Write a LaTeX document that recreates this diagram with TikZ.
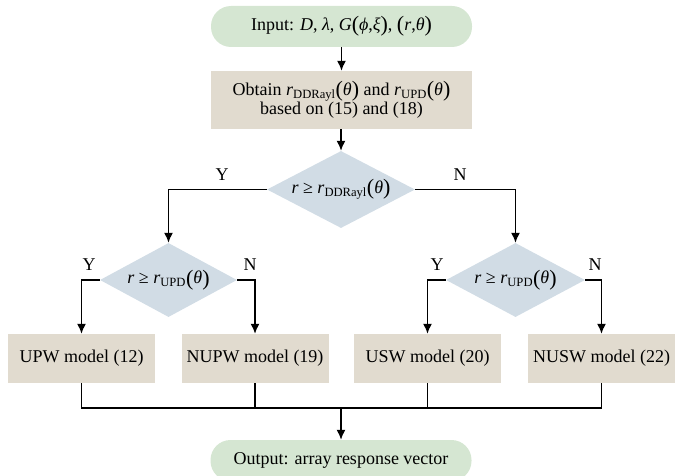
\documentclass[tikz,border=0pt]{standalone}
\usepackage{fontspec}
\setmainfont{Liberation Serif}
\usetikzlibrary{shapes.geometric,arrows.meta}
\definecolor{ingreen}{RGB}{213,230,210}
\definecolor{boxbeige}{RGB}{225,219,207}
\definecolor{diablue}{RGB}{209,220,229}
\newcommand{\vi}[1]{\textit{#1}}
\newcommand{\bpar}[1]{\raisebox{-1.5pt}{\fontsize{22}{22}\selectfont(}#1\raisebox{-1.5pt}{\fontsize{22}{22}\selectfont)}}
\begin{document}
\begin{tikzpicture}[x=1pt,y=-1pt,
  every node/.style={font=\fontsize{18}{22}\selectfont},
  term/.style={rectangle,rounded corners=20pt,fill=ingreen,minimum width=261pt,minimum height=41pt,inner sep=0pt},
  procbox/.style={rectangle,fill=boxbeige,inner sep=0pt,align=center},
  decide/.style={diamond,fill=diablue,inner sep=0pt,aspect=1.9},
  conn/.style={line width=1.5pt,-{Latex[length=10pt,width=9pt]}},
  plainline/.style={line width=1.2pt},
  yn/.style={inner sep=0pt}]
\useasboundingbox (0,0) rectangle (681,476);

\node[term] (in) at (341.5,26.5) {Input: \vi{D}, \vi{λ}, \vi{G}\bpar{\vi{ϕ},\vi{ξ}}, \bpar{\vi{r},\vi{θ}}};
\node[procbox,minimum width=261pt,minimum height=58pt] (ob) at (341.5,100)
  {Obtain \vi{r}\textsubscript{DDRayl}\bpar{\vi{θ}} and \vi{r}\textsubscript{UPD}\bpar{\vi{θ}}\\[-3pt] based on (15) and (18)};
\node[decide,minimum width=148pt,minimum height=77pt] (d1) at (341,189.5) {\vi{r} ≥ \vi{r}\textsubscript{DDRayl}\bpar{\vi{θ}}};
\node[decide,minimum width=137pt,minimum height=74pt] (d2) at (168.5,280) {\vi{r} ≥ \vi{r}\textsubscript{UPD}\bpar{\vi{θ}}};
\node[decide,minimum width=139pt,minimum height=74pt] (d3) at (515.5,280) {\vi{r} ≥ \vi{r}\textsubscript{UPD}\bpar{\vi{θ}}};

\node[procbox,minimum width=147pt,minimum height=49pt] (b1) at (81.5,358.5) {UPW model (12)};
\node[procbox,minimum width=147pt,minimum height=49pt] (b2) at (255,358.5) {NUPW model (19)};
\node[procbox,minimum width=147pt,minimum height=49pt] (b3) at (427.5,358.5) {USW model (20)};
\node[procbox,minimum width=147pt,minimum height=49pt] (b4) at (601.5,358.5) {NUSW model (22)};

\node[term] (out) at (341,460.5) {Output: array response vector};

\node[yn] (y1) at (222,175) {Y};
\node[yn] (n1) at (460,175) {N};
\node[yn] (y2) at (89,265) {Y};
\node[yn] (n2) at (250,265) {N};
\node[yn] (y3) at (437,265) {Y};
\node[yn] (n3) at (595,265) {N};

\draw[conn] (in) -- (ob);
\draw[conn] (ob.south -| d1.north) -- (d1.north);
\draw[conn] (d1.west) -| (d2.north);
\draw[conn] (d1.east) -| (d3.north);
\draw[conn] (d2.west) -| (b1.north);
\draw[conn] (d2.east) -| (b2.north);
\draw[conn] (d3.west) -| (b3.north);
\draw[conn] (d3.east) -| (b4.north);

\coordinate (m) at (341,408);
\draw[plainline] (b1.south) |- (m) -| (b4.south);
\draw[plainline] (b2.south) -- (b2.south |- m);
\draw[plainline] (b3.south) -- (b3.south |- m);
\draw[conn] (m) -- (out.north);
\end{tikzpicture}
\end{document}
